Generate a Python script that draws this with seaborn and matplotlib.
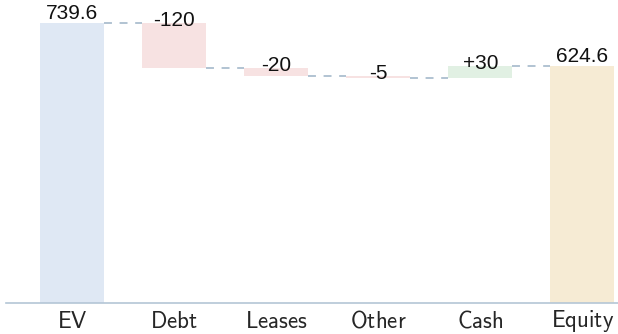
import matplotlib
matplotlib.use("Agg")
import matplotlib.pyplot as plt
import seaborn as sns
import numpy as np

# Bridge from enterprise value to equity value
categories = ["EV", "Debt", "Leases", "Other", "Cash", "Equity"]
changes = [739.6, -120, -20, -5, 30, 624.6]
labels = ["739.6", "-120", "-20", "-5", "+30", "624.6"]
kinds = ["total", "delta", "delta", "delta", "delta", "total"]
colors = ["#dfe8f4", "#f7e2e2", "#f7e2e2", "#f7e2e2", "#e1f0e3", "#f6ebd4"]

sns.set_theme(style="white")
plt.rcParams["mathtext.fontset"] = "cm"

# running levels for each step
bottoms, tops = [], []
level = 0.0
for c, k in zip(changes, kinds):
    if k == "total":
        lo, hi = 0.0, c
        level = c
    else:
        lo, hi = sorted([level, level + c])
        level = level + c
    bottoms.append(lo)
    tops.append(hi)
heights = [t - b for t, b in zip(tops, bottoms)]

fig = plt.figure(figsize=(6.18, 3.34), dpi=100)
ax = fig.add_axes([6 / 618, 31.3 / 334, 612 / 618, 302.7 / 334])

bar_w = 0.63
sns.barplot(x=categories, y=heights, hue=categories, palette=colors,
            width=bar_w, legend=False, ax=ax, saturation=1)
for patch, b in zip(ax.patches, bottoms):
    patch.set_y(b)
    patch.set_linewidth(0)

# dashed connectors between consecutive bars
ends = []
level = 0.0
for c, k in zip(changes, kinds):
    level = c if k == "total" else level + c
    ends.append(level)
for i in range(len(categories) - 1):
    ax.plot([i + bar_w / 2, i + 1 - bar_w / 2], [ends[i], ends[i]],
            color="#9db3c6", lw=1.1, ls=(0, (5.2, 5)), zorder=1)

# value labels
for i, (lab, k) in enumerate(zip(labels, kinds)):
    if k == "total":
        ax.annotate(lab, (i, tops[i]), xytext=(0, 0), textcoords="offset points",
                    ha="center", va="bottom", fontsize=15,
                    family="Liberation Sans", color="#111111")
    else:
        ax.annotate(lab, (i, tops[i]), xytext=(0, 2), textcoords="offset points",
                    ha="center", va="center", fontsize=15,
                    family="Liberation Sans", color="#111111")

ax.set_xlim(-0.65, 5.35)
ax.set_ylim(0, 800)
ax.set_xticks(range(len(categories)))
ax.set_xticklabels([r"$\mathsf{" + c + "}$" for c in categories], fontsize=16.5)
for t in ax.get_xticklabels():
    t.set_va("center")
ax.tick_params(axis="x", length=0, pad=13.5)
ax.set_yticks([])
ax.set_xlabel("")
ax.set_ylabel("")
for s in ["top", "right", "left"]:
    ax.spines[s].set_visible(False)
ax.spines["bottom"].set_color("#b4c6d6")
ax.spines["bottom"].set_linewidth(1.2)

fig.savefig("out.png", dpi=100)
